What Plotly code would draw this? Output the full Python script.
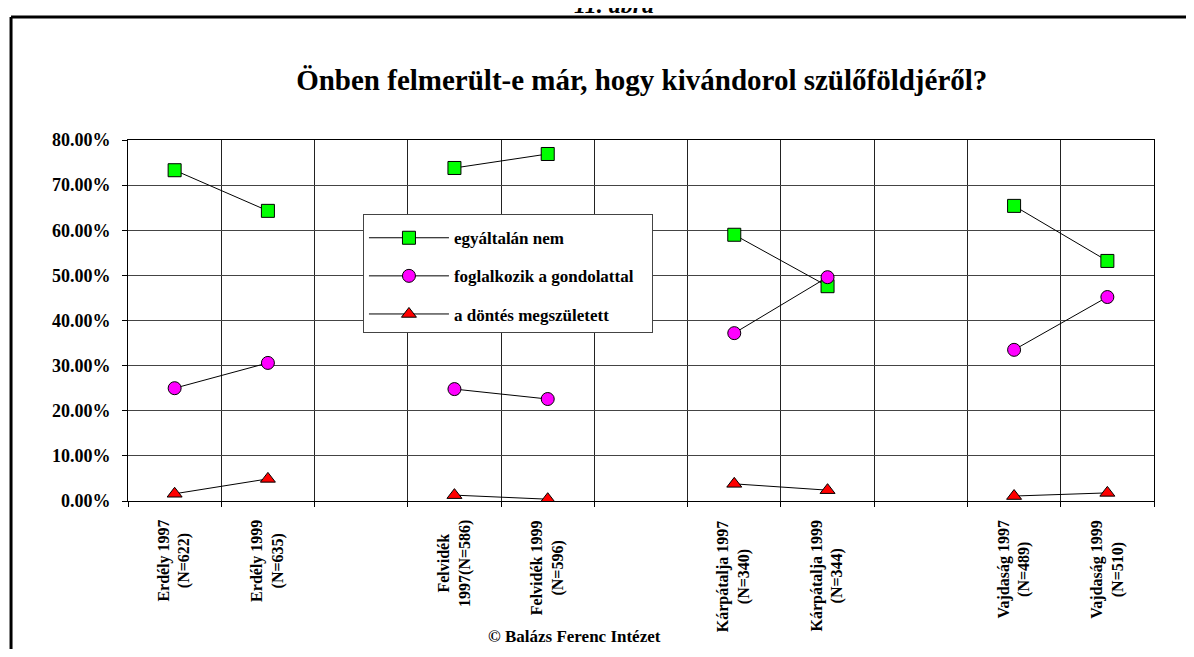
import plotly.graph_objects as go

# x categories (blank ones separate the regions)
labels = ["Erdély 1997<br>(N=622)", "Erdély 1999<br>(N=635)", " ",
          "Felvidék<br>1997(N=586)", "Felvidék 1999<br>(N=596)", "  ",
          "Kárpátalja 1997<br>(N=340)", "Kárpátalja 1999<br>(N=344)", "   ",
          "Vajdaság 1997<br>(N=489)", "Vajdaság 1999<br>(N=510)"]

# percent values
egyaltalan_nem = [73.3, 64.3, None, 73.8, 76.9, None, 59.0, 47.6, None, 65.4, 53.2]
foglalkozik = [25.0, 30.6, None, 24.8, 22.6, None, 37.2, 49.6, None, 33.5, 45.2]
dontes = [1.6, 4.9, None, 1.3, 0.4, None, 3.8, 2.4, None, 1.1, 1.8]

yticks = [0, 10, 20, 30, 40, 50, 60, 70, 80]
yticktext = ["%.2f%%" % v for v in yticks]

FONT = "Liberation Serif"

fig = go.Figure()

series = [
    ("egyáltalán nem", egyaltalan_nem, "square", "#00ff00"),
    ("foglalkozik a gondolattal\u00a0\u00a0\u00a0", foglalkozik, "circle", "#ff00ff"),
    ("a döntés megszületett", dontes, "triangle-up", "#ff0000"),
]
for i, (name, vals, sym, col) in enumerate(series):
    fig.add_trace(go.Scatter(
        x=labels, y=vals, name=name, mode="lines+markers",
        connectgaps=False, legendgroup="g%d" % i,
        line=dict(color="black", width=1),
        marker=dict(symbol=sym, size=13, color=col,
                    line=dict(color="black", width=1)),
    ))

# rotated category labels, lines centred
for lab in labels:
    if lab.strip() == "":
        continue
    fig.add_annotation(
        x=lab, y=-0.047, xref="x", yref="paper",
        text=lab, textangle=-90, showarrow=False,
        xanchor="center", yanchor="top", align="center",
        font=dict(family=FONT, size=16, color="black", weight="bold"),
    )

fig.add_annotation(
    x=0.435, y=-0.376, xref="paper", yref="paper",
    text="© Balázs Ferenc Intézet", showarrow=False, yanchor="middle",
    font=dict(family=FONT, size=17, color="black", weight="bold"),
)
fig.add_annotation(
    x=0.474, y=1.332, xref="paper", yref="paper",
    text="11. ábra", showarrow=False, yanchor="bottom",
    font=dict(family=FONT, size=24, color="black", weight="bold", style="italic"),
)

# outer frame: only top and left edges are visible in the picture
fig.add_shape(type="line", xref="paper", yref="paper",
              x0=-0.114, x1=1.3, y0=1.341, y1=1.341,
              line=dict(color="black", width=3))
fig.add_shape(type="line", xref="paper", yref="paper",
              x0=-0.114, x1=-0.114, y0=-0.7, y1=1.341,
              line=dict(color="black", width=3))

fig.update_layout(
    width=1178, height=641,
    margin=dict(l=120, r=32, t=132, b=148),
    paper_bgcolor="white", plot_bgcolor="white",
    font=dict(family=FONT, color="black"),
    title=dict(text="Önben felmerült-e már, hogy kivándorol szülőföldjéről?",
               x=0.538, xanchor="center", y=0.888, yanchor="middle",
               font=dict(family=FONT, size=29, color="black", weight="bold")),
    legend=dict(x=0.229, y=0.795, xanchor="left", yanchor="top",
                bgcolor="white", bordercolor="#444", borderwidth=1,
                itemwidth=80, tracegroupgap=13,
                title=dict(text=" ", font=dict(size=4)),
                font=dict(family=FONT, size=17, color="black", weight="bold")),
    showlegend=True,
)

fig.update_xaxes(
    type="category", categoryorder="array", categoryarray=labels,
    tickson="boundaries", showticklabels=False,
    ticks="outside", ticklen=5, tickcolor="black",
    showgrid=True, gridcolor="#222", gridwidth=1,
    showline=True, linecolor="black", linewidth=1, mirror=True,
    range=[-0.5, 10.5],
)
fig.update_yaxes(
    range=[0, 80], tickvals=yticks, ticktext=yticktext,
    ticks="outside", ticklen=5, tickcolor="black", ticklabelstandoff=8,
    showgrid=True, gridcolor="#444", gridwidth=1,
    showline=True, linecolor="black", linewidth=1, mirror=True,
    zeroline=False,
    tickfont=dict(family=FONT, size=18, color="black", weight="bold"),
)

fig.write_html("out.html")
